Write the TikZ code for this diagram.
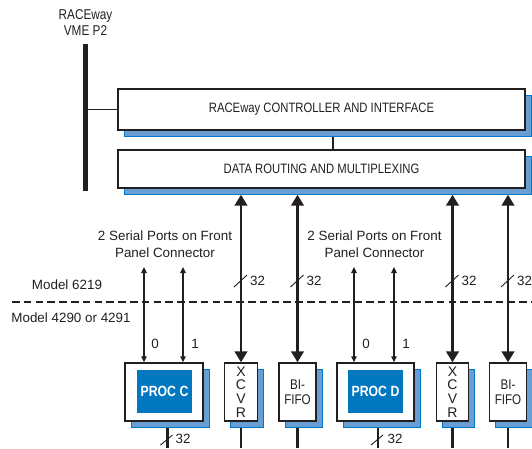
\documentclass[tikz,border=0pt]{standalone}
\usepackage{fontspec}
\setmainfont{Liberation Sans}
\newfontfamily\capsfont[FakeStretch=0.83]{Liberation Sans}
\usetikzlibrary{arrows.meta,shadows,calc}
\definecolor{ink}{RGB}{35,31,32}
\definecolor{shfill}{RGB}{104,158,212}
\definecolor{shedge}{RGB}{0,120,200}
\definecolor{procblue}{RGB}{0,119,190}
\begin{document}
\begin{tikzpicture}[x=1pt,y=-1pt,
  lowtxt/.style={font=\fontsize{13.4}{17}\selectfont, text=ink, inner sep=0pt},
  captxt/.style={font=\capsfont\fontsize{13.6}{16}\selectfont, text=ink, inner sep=0pt},
  panel/.style={draw=ink, line width=1.4pt, fill=white, inner sep=0pt,
    drop shadow={shadow xshift=6pt, shadow yshift=-6pt, fill=shfill, draw=shedge, line width=0.8pt, opacity=1}},
  vtxt/.style={font=\fontsize{14}{13.7}\selectfont, text=ink, align=center},
  ftxt/.style={font=\capsfont\fontsize{14}{15}\selectfont, text=ink, align=center},
  proctxt/.style={fill=procblue, inner sep=0pt, text=white, font=\capsfont\bfseries\fontsize{14.8}{17}\selectfont},
  bigarrow/.style={draw=ink, line width=2.8pt, {Triangle[length=11pt,width=12.5pt]}-{Triangle[length=11pt,width=12.5pt]}},
  thinarrow/.style={draw=ink, line width=1.2pt, {Triangle[length=6pt,width=5.5pt]}-{Triangle[length=6pt,width=5.5pt]}},
  wire/.style={draw=ink, line width=2.8pt},
  slash/.style={draw=ink, line width=0.9pt},
  dashline/.style={draw=ink, line width=1.2pt, dash pattern=on 7.5pt off 4.3pt}
]
\useasboundingbox (0,0) rectangle (532,448);

% top label and bus
\node[captxt, font=\capsfont\fontsize{14.2}{16}\selectfont, align=center] (rlabel) at (85.5,23) {RACEway\\VME P2};
\node[fill=ink, inner sep=0pt, minimum width=5pt, minimum height=147pt] (bus) at (85.5,117.5) {};

% upper panels
\node[panel, captxt, minimum width=407pt, minimum height=41pt] (ctrl) at (321.5,109.5) {RACEway CONTROLLER AND INTERFACE};
\node[panel, captxt, minimum width=407pt, minimum height=38pt] (route) at (321.5,169) {DATA ROUTING AND MULTIPLEXING};
\draw[ink, line width=1.4pt] (bus.east |- ctrl.west) -- (ctrl.west);
\draw[wire] ([shift={(11.5pt,-6pt)}]ctrl.south) -- ([xshift=11.5pt]route.north);

% model labels and divider
\coordinate (dashL) at (12,302);
\coordinate (dashR) at (532,302);
\draw[dashline] (dashL) -- (dashR);
\node[lowtxt] (m6219) at (67,285) {Model 6219};
\node[lowtxt] (m4290) at (71,318) {Model 4290 or 4291};

% serial port labels
\node[lowtxt, align=center] (serC) at (165,244.5) {2 Serial Ports on Front\\Panel Connector};
\node[lowtxt, align=center] (serD) at (374.5,244.5) {2 Serial Ports on Front\\Panel Connector};

% lower boxes
\node[panel, minimum width=78pt, minimum height=58pt] (procC) at (164,392) {};
\node[proctxt, minimum width=55pt, minimum height=43pt] (procCin) at (164.5,391.5) {PROC C};
\node[panel, minimum width=33pt, minimum height=58pt, vtxt] (xcvrC) at (241,392) {X\\C\\V\\R};
\node[panel, minimum width=37pt, minimum height=58pt, ftxt] (fifoC) at (297.5,392) {BI-\\FIFO};
\node[panel, minimum width=77pt, minimum height=58pt] (procD) at (375.5,392) {};
\node[proctxt, minimum width=55pt, minimum height=43pt] (procDin) at (375.5,391.5) {PROC D};
\node[panel, minimum width=32pt, minimum height=58pt, vtxt] (xcvrD) at (452.5,392) {X\\C\\V\\R};
\node[panel, minimum width=37pt, minimum height=58pt, ftxt] (fifoD) at (508,392) {BI-\\FIFO};

% thick bidirectional buses
\coordinate (rb) at ([yshift=-6pt]route.south);
\draw[bigarrow] (rb -| xcvrC.north) -- (xcvrC.north);
\draw[bigarrow] (rb -| fifoC.north) -- (fifoC.north);
\draw[bigarrow] (rb -| xcvrD.north) -- (xcvrD.north);
\draw[bigarrow] (rb -| fifoD.north) -- (fifoD.north);

% width marks on buses
\foreach \n/\x in {a/241,b/297.5,c/452.5,d/508}{
  \draw[slash] (\x-7,287) -- (\x+6,275);
  \node[lowtxt] (w\n) at (\x+16.5,281) {32};
}

% serial ports
\coordinate (sC0) at (144,267);
\coordinate (sC1) at (183,267);
\coordinate (sD0) at (354,267);
\coordinate (sD1) at (394,267);
\draw[thinarrow] (sC0) -- (sC0 |- procC.north);
\draw[thinarrow] (sC1) -- (sC1 |- procC.north);
\draw[thinarrow] (sD0) -- (sD0 |- procD.north);
\draw[thinarrow] (sD1) -- (sD1 |- procD.north);
\node[lowtxt] (lC0) at (155,344) {0};
\node[lowtxt] (lC1) at (195,344) {1};
\node[lowtxt] (lD0) at (366,344) {0};
\node[lowtxt] (lD1) at (406,344) {1};

% lines leaving the bottom
\coordinate (floor) at (0,448);
\path ([xshift=3.5pt]procC.south) coordinate (pcOut);
\path ([xshift=2.5pt]procD.south) coordinate (pdOut);
\draw[wire] ([yshift=-6pt]pcOut) -- (pcOut |- floor);
\draw[wire] ([yshift=-6pt]pdOut) -- (pdOut |- floor);
\draw[wire] ([yshift=-6pt]xcvrC.south) -- (xcvrC.south |- floor);
\draw[wire] ([yshift=-6pt]fifoC.south) -- (fifoC.south |- floor);
\draw[wire] ([yshift=-6pt]xcvrD.south) -- (xcvrD.south |- floor);
\draw[wire] ([yshift=-6pt]fifoD.south) -- (fifoD.south |- floor);
\draw[slash] ($(pcOut |- floor)+(-7,-3)$) -- ($(pcOut |- floor)+(5,-13)$);
\draw[slash] ($(pdOut |- floor)+(-7,-3)$) -- ($(pdOut |- floor)+(5,-13)$);
\node[lowtxt] (wpc) at (183,439) {32};
\node[lowtxt] (wpd) at (395,439) {32};
\end{tikzpicture}
\end{document}
